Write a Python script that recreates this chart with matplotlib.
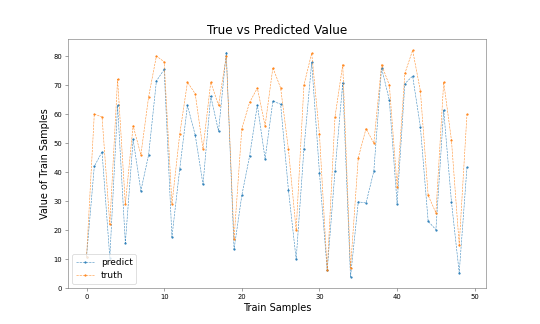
import numpy as np
import matplotlib
matplotlib.use("Agg")
import matplotlib.pyplot as plt

# values
truth = [10.8, 60, 59, 22, 72, 29, 56, 46, 66, 80,
         78, 29, 53, 71, 67, 48, 71, 63, 80, 17,
         55, 64, 69, 56, 76, 69, 48, 20, 70, 81,
         53, 6.2, 59, 77, 6.9, 45, 55, 50, 77, 70,
         35, 74, 82, 68, 32, 26, 71, 51, 15, 60]
predict = [10.8, 42, 47, 10.6, 63, 15.6, 51.3, 33.6, 46, 71.4,
           75.4, 17.7, 41, 63, 52.8, 35.8, 66.2, 54.1, 81.2, 13.4,
           32, 45.5, 63.1, 44.6, 64.5, 63.4, 34, 10, 48, 77.8,
           39.8, 6.2, 40.3, 70.8, 3.9, 29.8, 29.4, 40.3, 75.9, 64.8,
           29.2, 70.5, 73.1, 55.6, 23.1, 20.2, 61.4, 29.8, 5.4, 41.7]
samples = np.arange(len(truth))

fig = plt.figure(figsize=(10, 6), dpi=54)
ax = fig.add_subplot(111)
ax.plot(samples, predict, linestyle='--', marker='.', markersize=4,
        linewidth=0.8, alpha=0.8, label='predict')
ax.plot(samples, truth, linestyle='--', marker='.', markersize=4,
        linewidth=0.8, alpha=0.8, label='truth')
ax.set_title('True vs Predicted Value', fontsize=16)
ax.set_xlabel('Train Samples', fontsize=13)
ax.set_ylabel('Value of Train Samples', fontsize=13)
ax.tick_params(labelsize=9, color='#666666')
for s in ax.spines.values():
    s.set_color('#777777')
ax.legend(loc='lower left', fontsize=12)
plt.savefig('out.png', dpi=54)
